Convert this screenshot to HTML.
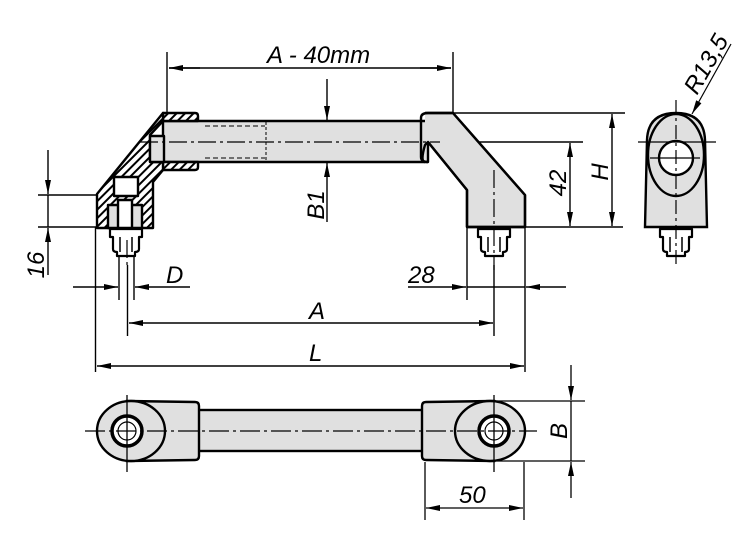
<!DOCTYPE html>
<html><head><meta charset="utf-8"><style>
html,body{margin:0;padding:0;background:#fff}
svg{display:block}
text{font-family:"Liberation Sans",sans-serif;font-style:italic;font-size:24px;fill:#000}
</style></head><body>
<svg width="750" height="539" viewBox="0 0 750 539" xmlns="http://www.w3.org/2000/svg">
<defs>
<marker id="ar" viewBox="0 0 14 6" refX="14" refY="3" markerWidth="15" markerHeight="6" markerUnits="userSpaceOnUse" orient="auto"><path d="M0,0L14,3L0,6z" fill="#000"/></marker>
<pattern id="hat" width="6" height="6" patternUnits="userSpaceOnUse" patternTransform="rotate(45)"><rect width="6" height="6" fill="#fff"/><rect width="2" height="6" fill="#000"/></pattern>
<g id="nut"><path d="M-16,0 h32 v8 h-3 v12 q0,3 -4,3 v4 h-18 v-4 q-4,0 -4,-3 v-12 h-3z" fill="#fff" stroke="#000" stroke-width="2.2" stroke-linejoin="round"/><line x1="-6" y1="8" x2="-6" y2="23" stroke="#000" stroke-width="1.5"/><line x1="6" y1="8" x2="6" y2="23" stroke="#000" stroke-width="1.5"/></g>
</defs>
<g stroke="#000" fill="none" stroke-width="1.4">
<line x1="167" y1="52" x2="167" y2="113"/><line x1="453" y1="52" x2="453" y2="113"/>
<line x1="200" y1="68" x2="169" y2="68" marker-end="url(#ar)"/><line x1="420" y1="68" x2="451" y2="68" marker-end="url(#ar)"/>
<line x1="169" y1="68" x2="451" y2="68"/>
<line x1="327" y1="79" x2="327" y2="120" marker-end="url(#ar)"/>
<line x1="327" y1="222" x2="327" y2="163" marker-end="url(#ar)"/>
<line x1="453" y1="113" x2="625" y2="113"/>
<line x1="428" y1="142" x2="583" y2="142"/>
<line x1="525" y1="227" x2="623" y2="227"/>
<line x1="570" y1="185" x2="570" y2="143" marker-end="url(#ar)"/><line x1="570" y1="185" x2="570" y2="226" marker-end="url(#ar)"/>
<line x1="612" y1="170" x2="612" y2="114" marker-end="url(#ar)"/><line x1="612" y1="170" x2="612" y2="226" marker-end="url(#ar)"/>
<line x1="38" y1="195" x2="97" y2="195"/><line x1="38" y1="227" x2="97" y2="227"/>
<line x1="48" y1="150" x2="48" y2="194" marker-end="url(#ar)"/><line x1="48" y1="275" x2="48" y2="228" marker-end="url(#ar)"/>
<line x1="48" y1="195" x2="48" y2="227"/>
<line x1="95.5" y1="227" x2="95.5" y2="372"/><line x1="525" y1="227" x2="525" y2="372"/>
<line x1="119" y1="255" x2="119" y2="300"/><line x1="134" y1="255" x2="134" y2="300"/>
<line x1="467" y1="227" x2="467" y2="300"/>
<line x1="127.5" y1="265" x2="127.5" y2="336"/><line x1="494" y1="265" x2="494" y2="336"/>
<line x1="73" y1="287" x2="118" y2="287" marker-end="url(#ar)"/><line x1="190" y1="287" x2="135" y2="287" marker-end="url(#ar)"/>
<line x1="408" y1="287" x2="466" y2="287" marker-end="url(#ar)"/><line x1="566" y1="287" x2="526" y2="287" marker-end="url(#ar)"/>
<line x1="467" y1="287" x2="525" y2="287"/>
<line x1="300" y1="323" x2="129" y2="323" marker-end="url(#ar)"/><line x1="300" y1="323" x2="493" y2="323" marker-end="url(#ar)"/>
<line x1="300" y1="366" x2="97" y2="366" marker-end="url(#ar)"/><line x1="300" y1="366" x2="524" y2="366" marker-end="url(#ar)"/>
</g>
<g stroke="#000" stroke-width="2.4" stroke-linejoin="round">
<rect x="163" y="121" width="265" height="41" fill="#e0e0e0"/>
<path d="M163,113 L195,113 Q198,113 198,116 L198,121 L163,121 Z" fill="url(#hat)"/>
<path d="M163,162 L198,162 L198,167 Q198,170 195,170 L163,170 Z" fill="url(#hat)"/>
<path d="M163,113 L97,194 L97,228 L153,228 L153,182 L163,170 L163,162 L150,162 L150,135 L163,121 Z" fill="url(#hat)"/>
<rect x="150" y="136" width="14" height="26" fill="#e0e0e0"/>
<rect x="114" y="177" width="24" height="19" fill="#fff"/>
<rect x="108" y="205" width="34" height="23" fill="#e0e0e0"/>
<rect x="118" y="200" width="14" height="28" fill="#fff"/>
<path d="M425,113 L453,113 L525,195 L525,227 L467,227 L467,190 L428,142 L425,145 Q420,162 425,162" fill="#e0e0e0"/>
<path d="M428,113 L453,113 L525,195 L525,227 L467,227 L467,190 L428,142" fill="none"/>
<path d="M428,113 Q421,113 421,118 L421,157 Q421,162 428,162" fill="none"/>
</g>
<use href="#nut" x="126" y="229"/>
<use href="#nut" x="494" y="229"/>
<use href="#nut" x="676" y="229"/>
<g stroke="#000" stroke-width="1.2" fill="none" stroke-dasharray="18,4,3,4">
<line x1="140" y1="142" x2="440" y2="142"/>
<line x1="494" y1="170" x2="494" y2="270"/>
<line x1="127" y1="240" x2="127" y2="265"/>
</g>
<line x1="205" y1="126" x2="265" y2="126" stroke="#000" stroke-dasharray="5,3"/>
<line x1="205" y1="158" x2="265" y2="158" stroke="#000" stroke-dasharray="5,3"/>
<line x1="266" y1="122" x2="266" y2="161" stroke="#000" stroke-dasharray="3,2"/>
<g stroke="#000" stroke-width="2.4">
<path d="M645,227 L647,140 Q648,113 676,113 Q704,113 705,140 L707,227 Z" fill="#e0e0e0"/>
<ellipse cx="676" cy="155" rx="28" ry="41" fill="none"/>
<circle cx="676" cy="158" r="17" fill="#fff"/>
</g>
<g stroke="#000" stroke-width="1.2">
<line x1="676" y1="100" x2="676" y2="268" stroke-dasharray="14,4,3,4"/><line x1="638" y1="142" x2="716" y2="142"/>
<line x1="650" y1="158" x2="700" y2="158"/>
<line x1="731" y1="44" x2="692" y2="114" marker-end="url(#ar)"/>
</g>
<g stroke="#000" stroke-width="2.4">
<rect x="198" y="410" width="226" height="41" fill="#e0e0e0"/>
<path d="M127,401 L195,402 Q199,402 199,406 L199,456 Q199,460 195,460 L127,461 Z" fill="#e0e0e0"/>
<ellipse cx="131" cy="431" rx="34" ry="30" fill="#e0e0e0"/>
<path d="M494,401 L426,402 Q422,402 422,406 L422,456 Q422,460 426,460 L494,461 Z" fill="#e0e0e0"/>
<ellipse cx="490" cy="431" rx="35" ry="30" fill="#e0e0e0"/>
<circle cx="127" cy="431" r="15" fill="#fff" stroke-width="3.5"/>
<circle cx="127" cy="431" r="9" fill="#fff" stroke-width="1.2"/>
<circle cx="494" cy="431" r="15" fill="#fff" stroke-width="3.5"/>
<circle cx="494" cy="431" r="9" fill="#fff" stroke-width="1.2"/>
</g>
<g stroke="#000" stroke-width="1.3" fill="none">
<line x1="85" y1="431" x2="537" y2="431" stroke-dasharray="20,4,3,4"/>
<line x1="127" y1="395" x2="127" y2="472"/><line x1="494" y1="395" x2="494" y2="472"/>
<line x1="497" y1="401" x2="585" y2="401"/><line x1="497" y1="461" x2="585" y2="461"/>
<line x1="571" y1="365" x2="571" y2="400" marker-end="url(#ar)"/><line x1="571" y1="498" x2="571" y2="462" marker-end="url(#ar)"/>
<line x1="571" y1="401" x2="571" y2="461"/>
<line x1="425" y1="462" x2="425" y2="520"/><line x1="524" y1="462" x2="524" y2="520"/>
<line x1="475" y1="508" x2="426" y2="508" marker-end="url(#ar)"/><line x1="475" y1="508" x2="523" y2="508" marker-end="url(#ar)"/>
</g>
<text x="267" y="63">A - 40mm</text>
<text transform="translate(324,205) rotate(-90)" text-anchor="middle">B1</text>
<text transform="translate(566,183) rotate(-90)" text-anchor="middle">42</text>
<text transform="translate(608,172) rotate(-90)" text-anchor="middle">H</text>
<text transform="translate(44,265) rotate(-90)" text-anchor="middle">16</text>
<text x="166" y="283">D</text>
<text x="408" y="283">28</text>
<text x="309" y="319">A</text>
<text x="309" y="361">L</text>
<text transform="translate(567,431) rotate(-90)" text-anchor="middle">B</text>
<text x="459" y="503">50</text>
<text transform="translate(713,68) rotate(-60)" text-anchor="middle">R13,5</text>
</svg>
</body></html>
